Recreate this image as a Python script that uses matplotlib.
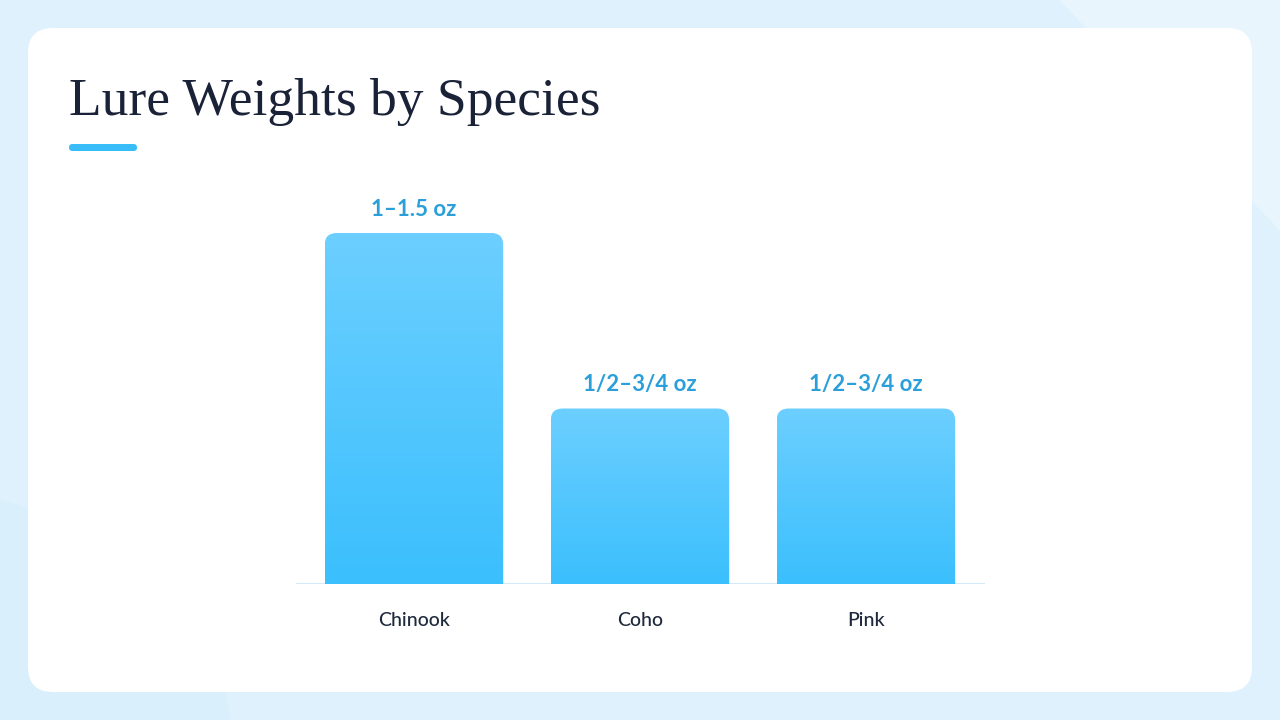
import numpy as np
import matplotlib
matplotlib.use("Agg")
import matplotlib.pyplot as plt
from matplotlib.patches import FancyBboxPatch

# data
species = ["Chinook", "Coho", "Pink"]
weights = [1.25, 0.625, 0.625]          # midpoint of the range, oz
labels = ["1–1.5 oz", "1/2–3/4 oz", "1/2–3/4 oz"]

W, H = 1280, 720
fig = plt.figure(figsize=(12.8, 7.2), dpi=100)
fig.patch.set_facecolor("#dff1fc")

# background card
bg = fig.add_axes([0, 0, 1, 1])
bg.set_xlim(0, W)
bg.set_ylim(H, 0)
bg.axis("off")
bg.add_patch(plt.Polygon([[1060, 0], [1280, 0], [1280, 230]], color="#e8f5fd", zorder=0))
bg.add_patch(plt.Polygon([[0, 500], [0, 720], [230, 720], [200, 560]], color="#d9effc", zorder=0))
card = FancyBboxPatch((28, 28), 1224, 664, boxstyle="round,pad=0,rounding_size=25",
                      fc="white", ec="none", zorder=1)
bg.add_patch(card)
bg.text(69, 115, "Lure Weights by Species", fontsize=38.5, family="Liberation Serif",
        color="#1a2238", va="baseline", ha="left", zorder=2)
bg.add_patch(FancyBboxPatch((69, 144), 68, 7, boxstyle="round,pad=0,rounding_size=3.5",
                            fc="#38bdf8", ec="none", zorder=2))

# chart axes: x from 296 to 985 px, baseline at 584 px
left, right, base = 296, 985, 584
xmin, xmax = -0.522, 2.527
ymax = 1.4
px_per_y = 280.8
top = base - ymax * px_per_y
ax = fig.add_axes([left / W, 1 - base / H, (right - left) / W, (base - top) / H])
ax.set_xlim(xmin, xmax)
ax.set_ylim(0, ymax)
ax.patch.set_alpha(0)
for s in ax.spines.values():
    s.set_visible(False)
ax.axhline(0, color="#d3ebf9", lw=1.5, zorder=1)
ax.set_yticks([])
ax.set_xticks(range(len(species)))
ax.set_xticklabels(species, family="Lato", fontsize=14, fontweight="medium", color="#1e293b")
ax.tick_params(axis="x", length=0, pad=20)

bar_w = 0.79
x_per_px = (xmax - xmin) / (right - left)
aspect = (1 / px_per_y) / x_per_px
grad = np.linspace(0, 1, 256).reshape(-1, 1)
cmap = matplotlib.colors.LinearSegmentedColormap.from_list("g", ["#3bbffd", "#6ccfff"])

bars = ax.bar(range(len(species)), weights, width=bar_w, color="none", zorder=2)
for b, lab in zip(bars, labels):
    x0, w, h = b.get_x(), b.get_width(), b.get_height()
    shape = FancyBboxPatch((x0, -0.1), w, h + 0.1,
                           boxstyle="round,pad=0,rounding_size=%f" % (12 * x_per_px),
                           mutation_aspect=aspect, fc="none", ec="none", zorder=2)
    ax.add_patch(shape)
    im = ax.imshow(grad, extent=[x0, x0 + w, 0, h], origin="lower", cmap=cmap,
                   aspect="auto", zorder=2)
    im.set_clip_path(shape)
    ax.text(x0 + w / 2, h + 24 / px_per_y, lab, ha="center", va="center",
            fontsize=16, fontweight="bold", family="Lato", color="#2b9fd9")

ax.set_xlim(xmin, xmax)
ax.set_ylim(0, ymax)

fig.savefig("out.png", dpi=100, facecolor=fig.get_facecolor())
